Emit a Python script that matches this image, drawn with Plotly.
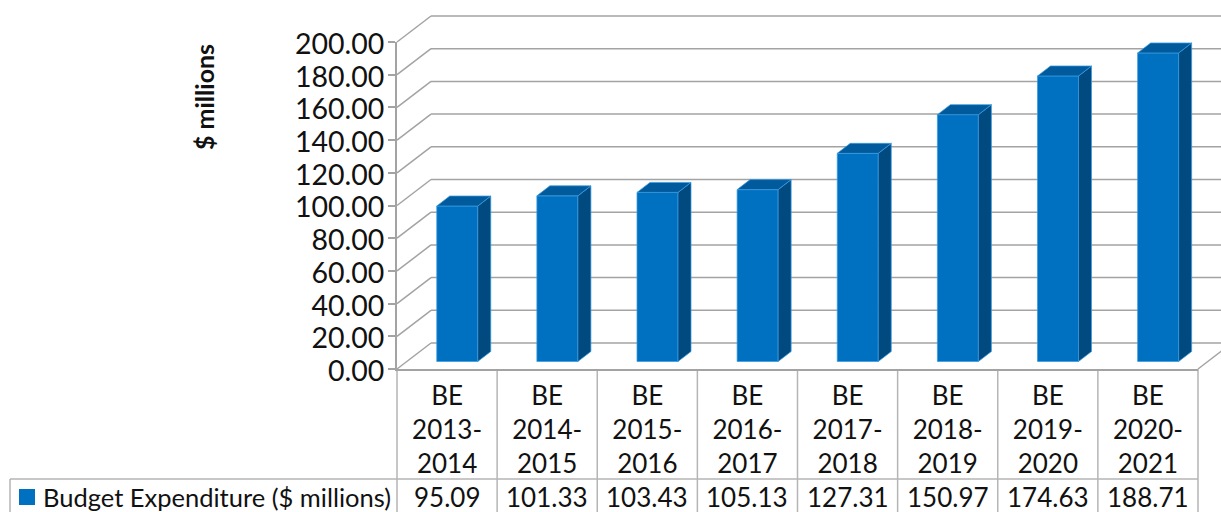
import plotly.graph_objects as go

W, H = 1221, 512
categories = ["BE<br>2013-<br>2014", "BE<br>2014-<br>2015", "BE<br>2015-<br>2016", "BE<br>2016-<br>2017",
              "BE<br>2017-<br>2018", "BE<br>2018-<br>2019", "BE<br>2019-<br>2020", "BE<br>2020-<br>2021"]
values = [95.09, 101.33, 103.43, 105.13, 127.31, 150.97, 174.63, 188.71]
value_labels = ["95.09", "101.33", "103.43", "105.13", "127.31", "150.97", "174.63", "188.71"]
y_ticks = [0, 20, 40, 60, 80, 100, 120, 140, 160, 180, 200]
series_name = "Budget Expenditure ($ millions)"
y_title = "$ millions"

FONT = "Lato"
FRONT, SIDE, TOP, EDGE = "#0070c0", "#004a80", "#005a9c", "#3a9be0"
GRID, TABLE = "#a3a3a3", "#b5b5b5"
TEXT = "#111111"

# plot frame in pixels
L, R, T, B = 397, 1198, 42, 369
n = len(categories)
cell = (R - L) / n
unit = (B - T) / 200
py = lambda v: B - v * unit
fx = lambda p: p / W
fy = lambda p: 1 - p / H

BACK_DX, BACK_DY = 34, 26
BAR_W = 41 / cell
BAR_SHIFT = 10.2 / cell
LIFT = 7.5 / unit
DEPTH_X, DEPTH_Y = 13 / cell, 10 / unit

xs = [i + BAR_SHIFT for i in range(n)]
fig = go.Figure()
fig.add_trace(go.Bar(x=xs, y=values, base=[LIFT] * n, width=BAR_W, name=series_name,
                     marker=dict(color=FRONT, line=dict(color=EDGE, width=0.75)),
                     showlegend=False, hoverinfo="x+y"))
for x, v in zip(xs, values):
    x0, x1 = x - BAR_W / 2, x + BAR_W / 2
    y0, y1 = LIFT, LIFT + v
    fig.add_trace(go.Scatter(x=[x1, x1 + DEPTH_X, x1 + DEPTH_X, x1, x1],
                             y=[y0, y0 + DEPTH_Y, y1 + DEPTH_Y, y1, y0],
                             mode="lines", fill="toself", fillcolor=SIDE,
                             line=dict(color=EDGE, width=0.75), showlegend=False, hoverinfo="skip"))
    fig.add_trace(go.Scatter(x=[x0, x1, x1 + DEPTH_X, x0 + DEPTH_X, x0],
                             y=[y1, y1, y1 + DEPTH_Y, y1 + DEPTH_Y, y1],
                             mode="lines", fill="toself", fillcolor=TOP,
                             line=dict(color=EDGE, width=0.75), showlegend=False, hoverinfo="skip"))

shapes = []
def seg(x0, y0, x1, y1, color, width, layer="below"):
    shapes.append(dict(type="line", xref="paper", yref="paper", x0=fx(x0), y0=fy(y0), x1=fx(x1), y1=fy(y1),
                       line=dict(color=color, width=width), layer=layer))

for t in y_ticks:
    y = py(t)
    seg(L, y, L + BACK_DX, y - BACK_DY, GRID, 1.5)
    seg(L + BACK_DX, y - BACK_DY, W + 2, y - BACK_DY, GRID, 1.5)
seg(R, B, R + BACK_DX, B - BACK_DY, GRID, 1.5)

# data table
TB, TM = H + 2, 479
for i in range(n + 1):
    seg(L + i * cell, B, L + i * cell, TB, TABLE, 1.5)
seg(10, TM, R, TM, TABLE, 1.5)
seg(10, TM, 10, TB, TABLE, 1.5)

# legend key of the table
shapes.append(dict(type="rect", xref="paper", yref="paper", x0=fx(19), x1=fx(35), y0=fy(505), y1=fy(489),
                   fillcolor=FRONT, line=dict(width=0), layer="above"))

annotations = [dict(x=i, y=fy(497), xref="x", yref="paper", text=s, showarrow=False,
                    xanchor="center", yanchor="middle", font=dict(family=FONT, size=26, color=TEXT))
               for i, s in enumerate(value_labels)]
annotations.append(dict(x=fx(41), y=fy(497), xref="paper", yref="paper", text=series_name, showarrow=False,
                        xanchor="left", yanchor="middle", font=dict(family=FONT, size=25.5, color=TEXT)))
annotations.append(dict(x=fx(204), y=fy(97), xref="paper", yref="paper", text="<b>" + y_title + "</b>",
                        showarrow=False, textangle=-90, xanchor="center", yanchor="middle",
                        font=dict(family=FONT, size=25, color=TEXT)))

fig.update_layout(
    width=W, height=H, margin=dict(l=0, r=0, t=0, b=0, autoexpand=False), autosize=False,
    paper_bgcolor="white", plot_bgcolor="rgba(0,0,0,0)", showlegend=False,
    shapes=shapes, annotations=annotations, font=dict(family=FONT, color=TEXT),
    xaxis=dict(domain=[fx(L), fx(R)], range=[-0.5, n - 0.5], tickmode="array", tickvals=list(range(n)),
               ticktext=categories, ticks="", showgrid=False, zeroline=False, showline=True,
               ticklabelstandoff=3,
               linecolor=GRID, linewidth=2, tickangle=0, tickfont=dict(family=FONT, size=26, color=TEXT)),
    yaxis=dict(domain=[fy(B), fy(T)], range=[0, 200], tickmode="array", tickvals=y_ticks,
               tickformat=".2f", ticks="outside", ticklen=7, tickcolor=GRID, tickwidth=1.5,
               ticklabelstandoff=-2, ticklabelshift=2,
               showgrid=False, zeroline=False, showline=True, linecolor=GRID, linewidth=2,
               tickfont=dict(family=FONT, size=28.5, color=TEXT)),
)
fig.write_html("out.html", config=dict(displayModeBar=False),
               post_script="document.body.style.margin='0';")
